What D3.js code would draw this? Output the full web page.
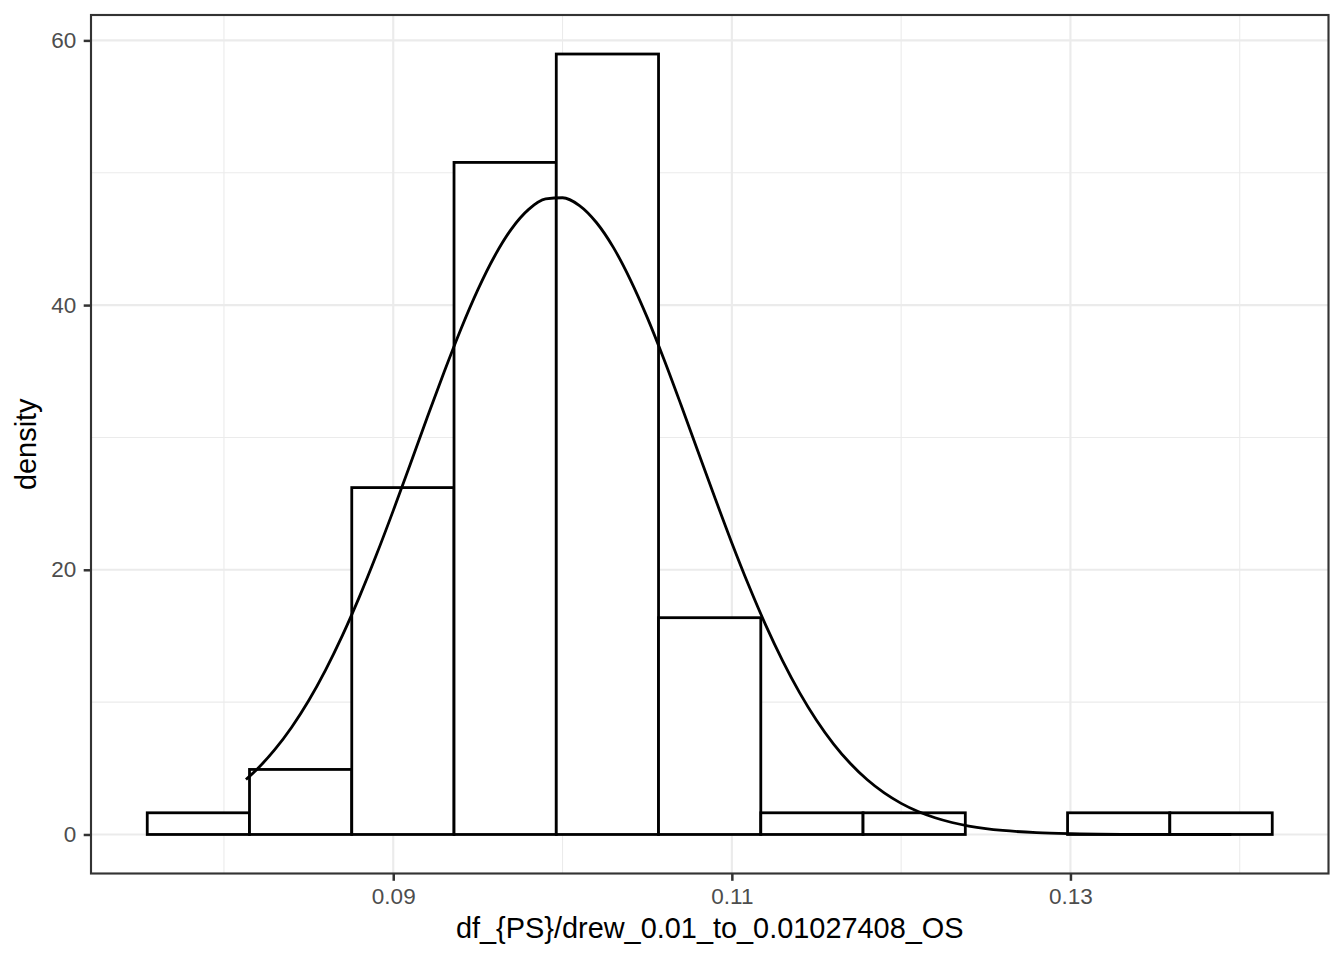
<!DOCTYPE html>
<html>
<head>
<meta charset="utf-8">
<script src="https://cdn.jsdelivr.net/npm/d3@7"></script>
<style>
  html, body { margin: 0; padding: 0; background: #fff; }
  svg { display: block; font-family: "Liberation Sans", Arial, Helvetica, sans-serif; }
</style>
</head>
<body>
<svg id="chart" width="1344" height="960"></svg>
<script>
// ---- data ----
const binEdges = [0.07547, 0.08151, 0.08755, 0.09359, 0.09963, 0.10567, 0.11171, 0.11775, 0.12379, 0.12983, 0.13587, 0.14192];
const binDensity = [1.638, 4.914, 26.21, 50.78, 58.97, 16.38, 1.638, 1.638, 0, 1.638, 1.638];
const curveX = [0.0813, 0.082, 0.083, 0.084, 0.085, 0.086, 0.087, 0.088, 0.089, 0.090,
  0.091, 0.092, 0.093, 0.094, 0.095, 0.096, 0.097, 0.098, 0.099, 0.100,
  0.101, 0.102, 0.103, 0.104, 0.105, 0.106, 0.107, 0.108, 0.109, 0.110,
  0.111, 0.112, 0.113, 0.114, 0.115, 0.116, 0.117, 0.118, 0.119, 0.120,
  0.121, 0.122, 0.123, 0.124, 0.125, 0.126, 0.128, 0.130, 0.133, 0.136, 0.1395];
const curveY = [4.152, 4.990, 6.406, 8.103, 10.10, 12.42, 15.04, 17.95, 21.11, 24.47,
  27.96, 31.48, 34.93, 38.20, 41.17, 43.73, 45.78, 47.23, 48.02, 48.11,
  47.52, 46.24, 44.36, 41.93, 39.07, 35.87, 32.45, 28.94, 25.44, 22.03,
  18.81, 15.82, 13.12, 10.72, 8.633, 6.851, 5.360, 4.131, 3.138, 2.350,
  1.734, 1.261, 0.904, 0.638, 0.444, 0.305, 0.137, 0.058, 0.014, 0.003, 0.000];
const xMajorTicks = [0.09, 0.11, 0.13];
const xMinorTicks = [0.08, 0.10, 0.12, 0.14];
const yMajorTicks = [0, 20, 40, 60];
const yMinorTicks = [10, 30, 50];
const xTitle = "df_{PS}/drew_0.01_to_0.01027408_OS";
const yTitle = "density";

// ---- layout ----
const svg = d3.select("#chart");
const P = { left: 91, right: 1328.5, top: 15, bottom: 873.5 };
const LW = 2.13;
const MARK_LW = 2.8;

const xLo = binEdges[0], xHi = binEdges[binEdges.length - 1];
const xPad = (xHi - xLo) * 0.05;
const x = d3.scaleLinear().domain([xLo - xPad, xHi + xPad]).range([P.left, P.right]);
const yMax = d3.max(binDensity);
const y = d3.scaleLinear().domain([-yMax * 0.05, yMax * 1.05]).range([P.bottom, P.top]);

// grid
const g = svg.append("g");
g.selectAll("line.xmin").data(xMinorTicks).join("line")
  .attr("x1", d => x(d)).attr("x2", d => x(d)).attr("y1", P.top).attr("y2", P.bottom)
  .attr("stroke", "#EBEBEB").attr("stroke-width", LW / 2);
g.selectAll("line.ymin").data(yMinorTicks).join("line")
  .attr("y1", d => y(d)).attr("y2", d => y(d)).attr("x1", P.left).attr("x2", P.right)
  .attr("stroke", "#EBEBEB").attr("stroke-width", LW / 2);
g.selectAll("line.xmaj").data(xMajorTicks).join("line")
  .attr("x1", d => x(d)).attr("x2", d => x(d)).attr("y1", P.top).attr("y2", P.bottom)
  .attr("stroke", "#EBEBEB").attr("stroke-width", LW);
g.selectAll("line.ymaj").data(yMajorTicks).join("line")
  .attr("y1", d => y(d)).attr("y2", d => y(d)).attr("x1", P.left).attr("x2", P.right)
  .attr("stroke", "#EBEBEB").attr("stroke-width", LW);

// bars
const bins = binDensity.map((v, i) => ({ x0: binEdges[i], x1: binEdges[i + 1], v }));
svg.append("g").selectAll("rect").data(bins).join("rect")
  .attr("x", d => x(d.x0))
  .attr("width", d => x(d.x1) - x(d.x0))
  .attr("y", d => y(d.v))
  .attr("height", d => y(0) - y(d.v))
  .attr("fill", "#FFFFFF")
  .attr("stroke", "#000000")
  .attr("stroke-width", MARK_LW);

// normal curve
const line = d3.line()
  .x((d, i) => x(curveX[i]))
  .y(d => y(d))
  .curve(d3.curveMonotoneX);
svg.append("path")
  .attr("d", line(curveY))
  .attr("fill", "none")
  .attr("stroke", "#000000")
  .attr("stroke-width", MARK_LW);

// panel border
svg.append("rect")
  .attr("x", P.left).attr("y", P.top)
  .attr("width", P.right - P.left).attr("height", P.bottom - P.top)
  .attr("fill", "none").attr("stroke", "#333333").attr("stroke-width", LW);

// axes
const TICK_FS = 22.5;
const xAxis = d3.axisBottom(x).tickValues(xMajorTicks).tickFormat(d3.format(".2f"))
  .tickSizeInner(7.3).tickSizeOuter(0).tickPadding(7.5);
const xg = svg.append("g").attr("transform", `translate(0,${P.bottom})`).call(xAxis);
xg.select(".domain").remove();
xg.selectAll(".tick line").attr("stroke", "#333333").attr("stroke-width", 2.5);
xg.selectAll(".tick text").attr("fill", "#4D4D4D").attr("font-size", TICK_FS)
  .attr("font-family", "Liberation Sans, Arial, sans-serif");

const yAxis = d3.axisLeft(y).tickValues(yMajorTicks).tickFormat(d3.format("d"))
  .tickSizeInner(7.3).tickSizeOuter(0).tickPadding(7.5);
const yg = svg.append("g").attr("transform", `translate(${P.left},0)`).call(yAxis);
yg.select(".domain").remove();
yg.selectAll(".tick line").attr("stroke", "#333333").attr("stroke-width", 2.5);
yg.selectAll(".tick text").attr("fill", "#4D4D4D").attr("font-size", TICK_FS)
  .attr("font-family", "Liberation Sans, Arial, sans-serif");

// titles
svg.append("text")
  .attr("x", (P.left + P.right) / 2).attr("y", 937.5)
  .attr("text-anchor", "middle")
  .attr("font-size", 28.9).attr("fill", "#000")
  .text(xTitle);
svg.append("text")
  .attr("transform", `translate(36,${(P.top + P.bottom) / 2}) rotate(-90)`)
  .attr("text-anchor", "middle")
  .attr("font-size", 28.9).attr("fill", "#000")
  .text(yTitle);
</script>
</body>
</html>
